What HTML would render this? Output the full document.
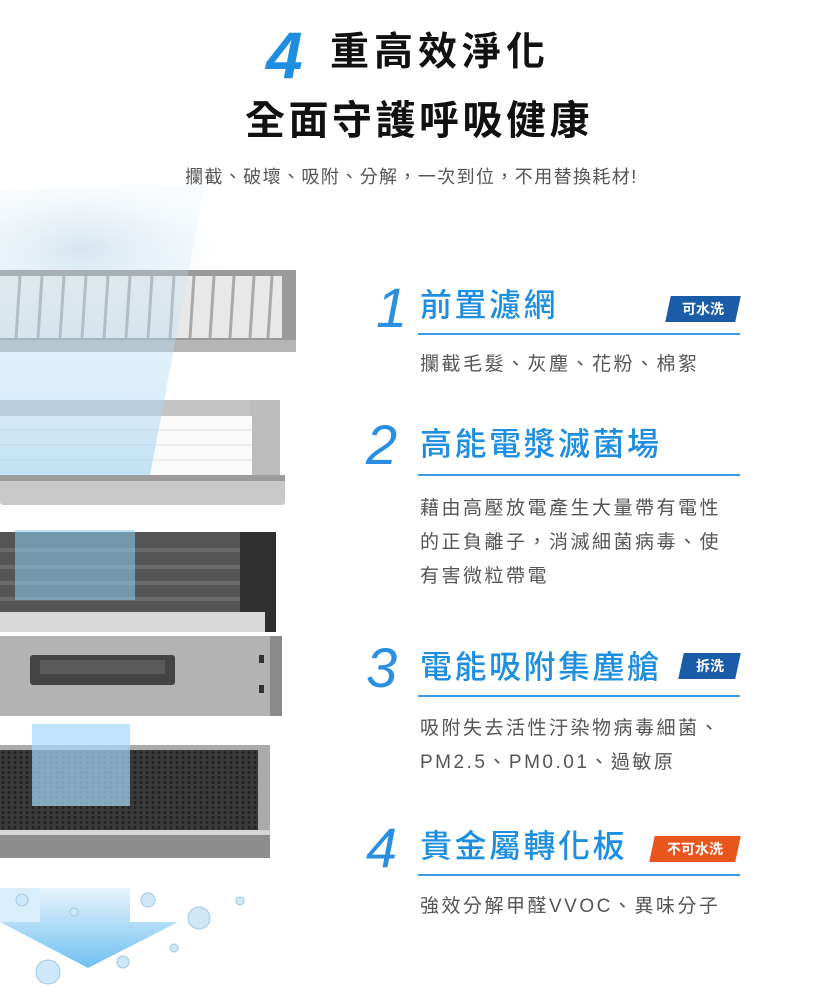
<!DOCTYPE html>
<html><head><meta charset="utf-8"><style>
body{margin:0;width:833px;height:1000px;background:#fff;position:relative;overflow:hidden;font-family:"Liberation Sans","Noto Sans CJK TC",sans-serif}
.a{position:absolute;white-space:nowrap}
.num{color:#2a8fe0;font-style:italic;font-weight:300;font-size:56px;line-height:1}
.t{color:#1e8fe0;font-size:32px;font-weight:500;letter-spacing:2.5px;line-height:1}
.ln{position:absolute;left:418px;width:322px;height:2px;background:#3a9be6}
.d{color:#555;font-size:19px;letter-spacing:2.5px;line-height:1}
.b{position:absolute;color:#fff;font-size:14px;font-weight:bold;text-align:center;line-height:26px;height:26px;transform:skewX(-12deg)}
.b span{display:inline-block;transform:skewX(12deg)}
</style></head><body>
<svg class="a" style="left:0;top:0" width="833" height="1000">
<defs>
<linearGradient id="beam" x1="0" y1="0" x2="0" y2="1"><stop offset="0" stop-color="#dbeef9" stop-opacity=".2"/><stop offset="1" stop-color="#9fd2f3" stop-opacity=".8"/></linearGradient>
<linearGradient id="arr" x1="0" y1="0" x2="0" y2="1"><stop offset="0" stop-color="#e8f4fc"/><stop offset="1" stop-color="#6fc0f0"/></linearGradient>
<pattern id="hex" width="6" height="5" patternUnits="userSpaceOnUse"><rect width="6" height="5" fill="#3a3a3a"/><circle cx="3" cy="2.5" r="1.5" fill="#222"/></pattern>
<radialGradient id="mist" cx=".4" cy=".6" r=".6"><stop offset="0" stop-color="#c9d8e2" stop-opacity=".7"/><stop offset="1" stop-color="#fff" stop-opacity="0"/></radialGradient>
</defs>
<ellipse cx="110" cy="235" rx="140" ry="70" fill="url(#mist)"/>
<!-- filter 1 -->
<rect x="0" y="270" width="296" height="82" fill="#9a9a9a"/>
<rect x="0" y="276" width="282" height="62" fill="#e8e8e8"/>
<g stroke="#a9a9a9" stroke-width="3">
<line x1="20" y1="276" x2="16" y2="338"/><line x1="42" y1="276" x2="38" y2="338"/><line x1="64" y1="276" x2="60" y2="338"/><line x1="86" y1="276" x2="82" y2="338"/><line x1="108" y1="276" x2="104" y2="338"/><line x1="130" y1="276" x2="126" y2="338"/><line x1="152" y1="276" x2="148" y2="338"/><line x1="174" y1="276" x2="170" y2="338"/><line x1="194" y1="276" x2="190" y2="338"/><line x1="214" y1="276" x2="210" y2="338"/><line x1="234" y1="276" x2="230" y2="338"/><line x1="254" y1="276" x2="250" y2="338"/><line x1="272" y1="276" x2="268" y2="338"/></g>
<rect x="0" y="340" width="296" height="12" fill="#b5b5b5"/>
<!-- filter 2 -->
<rect x="0" y="400" width="276" height="16" fill="#c4c4c4"/>
<rect x="250" y="400" width="30" height="100" fill="#bdbdbd"/>
<rect x="0" y="416" width="252" height="62" fill="#fafafa"/>
<g stroke="#ddd"><line x1="0" y1="430" x2="252" y2="430"/><line x1="0" y1="445" x2="252" y2="445"/><line x1="0" y1="460" x2="252" y2="460"/></g>
<rect x="0" y="475" width="285" height="30" rx="3" fill="#c9c9c9"/>
<rect x="0" y="475" width="285" height="6" fill="#9c9c9c"/>
<!-- filter 3 -->
<rect x="0" y="532" width="270" height="100" fill="#555"/>
<g fill="#6a6a6a"><rect x="0" y="548" width="245" height="4"/><rect x="0" y="565" width="245" height="4"/><rect x="0" y="581" width="245" height="4"/><rect x="0" y="597" width="245" height="4"/></g>
<rect x="240" y="532" width="36" height="100" fill="#2f2f2f"/>
<rect x="0" y="612" width="265" height="20" fill="#dadada"/>
<rect x="0" y="636" width="282" height="80" fill="#b3b3b3"/>
<rect x="270" y="636" width="12" height="80" fill="#8a8a8a"/>
<rect x="30" y="655" width="145" height="30" rx="3" fill="#444"/>
<rect x="40" y="660" width="125" height="14" fill="#5a5a5a"/>
<rect x="259" y="655" width="5" height="8" fill="#333"/><rect x="259" y="685" width="5" height="8" fill="#333"/>
<!-- filter 4 -->
<rect x="0" y="745" width="270" height="113" fill="#aaa"/>
<rect x="0" y="750" width="258" height="80" fill="url(#hex)"/>
<rect x="0" y="834" width="270" height="24" fill="#8d8d8d"/>
<rect x="0" y="830" width="270" height="5" fill="#d5d5d5"/>
<!-- beams -->
<path d="M0 190 L205 185 L150 475 L0 475Z" fill="url(#beam)" opacity=".75"/>
<rect x="15" y="530" width="120" height="70" fill="#8ccdf3" opacity=".55"/>
<rect x="32" y="724" width="98" height="82" fill="#a5d8f7" opacity=".7"/>
<!-- arrow -->
<path d="M40 888 L130 888 L130 922 L178 922 L88 968 L0 922 L40 922Z" fill="url(#arr)"/>
<path d="M0 888 L40 888 L40 922 L0 922Z" fill="#d9eefb"/>
<g fill="#cfe8f8" stroke="#9cc9e8"><circle cx="22" cy="900" r="6"/><circle cx="148" cy="900" r="7"/><circle cx="199" cy="918" r="11"/><circle cx="48" cy="972" r="12"/><circle cx="123" cy="962" r="6"/><circle cx="240" cy="901" r="4"/><circle cx="74" cy="912" r="4"/><circle cx="174" cy="948" r="4"/></g>
</svg>

<div class="a" style="left:266px;top:22px;color:#1e8fe0;font-size:66px;font-style:italic;font-weight:bold;line-height:1">4</div>
<div class="a" style="left:330px;top:33px;font-size:39px;font-weight:bold;letter-spacing:5px;color:#111;line-height:1">重高效淨化</div>
<div class="a" style="left:245px;top:101px;font-size:40px;font-weight:bold;letter-spacing:3.5px;color:#111;line-height:1">全面守護呼吸健康</div>
<div class="a" style="left:185px;top:168px;font-size:18px;color:#555;letter-spacing:1.4px;line-height:1">攔截、破壞、吸附、分解，一次到位，不用替換耗材!</div>

<div class="a num" style="left:376px;top:280px">1</div>
<div class="a t" style="left:420px;top:289px">前置濾網</div>
<div class="b" style="left:668px;top:296px;width:70px;background:#1b5ca8"><span>可水洗</span></div>
<div class="ln" style="top:333px"></div>
<div class="a d" style="left:420px;top:355px">攔截毛髮、灰塵、花粉、棉絮</div>

<div class="a num" style="left:366px;top:417px">2</div>
<div class="a t" style="left:420px;top:428px">高能電漿滅菌場</div>
<div class="ln" style="top:474px"></div>
<div class="a d" style="left:420px;top:499px">藉由高壓放電產生大量帶有電性</div>
<div class="a d" style="left:420px;top:533px">的正負離子，消滅細菌病毒、使</div>
<div class="a d" style="left:420px;top:567px">有害微粒帶電</div>

<div class="a num" style="left:366px;top:640px">3</div>
<div class="a t" style="left:420px;top:651px">電能吸附集塵艙</div>
<div class="b" style="left:681px;top:653px;width:57px;background:#1b5ca8"><span>拆洗</span></div>
<div class="ln" style="top:695px"></div>
<div class="a d" style="left:420px;top:719px">吸附失去活性汙染物病毒細菌、</div>
<div class="a d" style="left:420px;top:753px">PM2.5、PM0.01、過敏原</div>

<div class="a num" style="left:366px;top:820px">4</div>
<div class="a t" style="left:420px;top:830px">貴金屬轉化板</div>
<div class="b" style="left:652px;top:836px;width:86px;background:#e8561e"><span>不可水洗</span></div>
<div class="ln" style="top:874px"></div>
<div class="a d" style="left:420px;top:897px">強效分解甲醛VVOC、異味分子</div>
</body></html>
